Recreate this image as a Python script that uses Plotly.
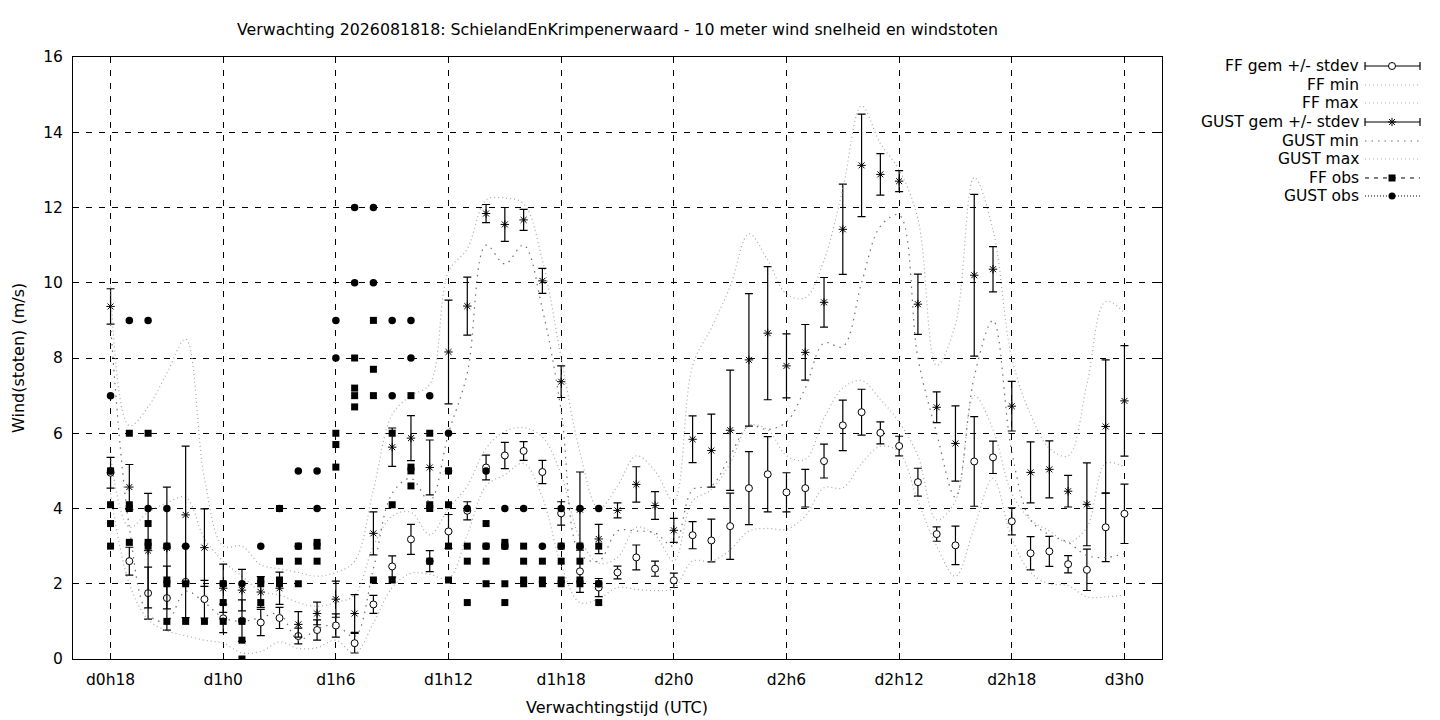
import plotly.graph_objects as go

# uren sinds d0h0 (verwachting per uur)
uur = [18, 19, 20, 21, 22, 23, 24, 25, 26, 27, 28, 29, 30, 31, 32, 33, 34, 35, 36,
       37, 38, 39, 40, 41, 42, 43, 44, 45, 46, 47, 48, 49, 50, 51, 52, 53, 54, 55,
       56, 57, 58, 59, 60, 61, 62, 63, 64, 65, 66, 67, 68, 69, 70, 71, 72]

ff_gem = [4.95, 2.60, 1.75, 1.62, 2.05, 1.59, 1.08, 1.02, 0.97, 1.09, 0.61, 0.77, 0.89,
          0.42, 1.45, 2.46, 3.18, 2.60, 3.39, 3.94, 5.09, 5.41, 5.53, 4.97, 3.87, 2.33,
          1.90, 2.30, 2.70, 2.40, 2.09, 3.29, 3.15, 3.53, 4.54, 4.91, 4.43, 4.54, 5.26,
          6.21, 6.56, 6.01, 5.66, 4.70, 3.32, 3.02, 5.25, 5.36, 3.66, 2.81, 2.86, 2.52,
          2.37, 3.50, 3.86]
ff_sd = [0.41, 0.37, 0.69, 0.85, 0.95, 0.50, 0.38, 0.55, 0.35, 0.28, 0.21, 0.27, 0.31,
         0.26, 0.24, 0.28, 0.40, 0.28, 0.45, 0.24, 0.33, 0.35, 0.25, 0.31, 0.31, 0.56,
         0.24, 0.17, 0.33, 0.20, 0.19, 0.36, 0.57, 0.88, 0.97, 1.00, 0.52, 0.50, 0.45,
         0.67, 0.61, 0.29, 0.26, 0.37, 0.19, 0.51, 1.19, 0.43, 0.36, 0.44, 0.40, 0.23,
         0.55, 0.91, 0.79]
ff_min = [4.40, 2.00, 1.05, 0.75, 0.62, 0.50, 0.42, 0.16, 0.20, 0.45, 0.28, 0.30, 0.50,
          0.15, 0.95, 1.90, 2.28, 2.25, 2.14, 3.30, 4.60, 4.90, 5.20, 4.30, 2.50, 1.50,
          1.60, 1.90, 1.85, 1.82, 1.88, 2.60, 2.60, 2.90, 3.40, 3.47, 3.45, 3.80, 4.55,
          4.55, 5.20, 5.65, 5.50, 4.20, 3.00, 2.20, 3.50, 4.80, 3.20, 2.30, 2.00, 1.95,
          1.65, 1.65, 1.70]
ff_max = [5.40, 3.50, 3.90, 4.15, 4.30, 3.20, 2.60, 2.20, 1.80, 1.70, 1.50, 1.40, 1.50,
          1.70, 3.00, 3.80, 3.90, 3.30, 4.00, 4.60, 5.60, 6.05, 6.15, 5.90, 4.90, 3.20,
          2.55, 2.70, 3.50, 3.30, 2.60, 4.20, 4.50, 5.20, 6.20, 6.10, 5.40, 5.30, 6.40,
          7.20, 7.40, 6.90, 6.30, 5.40, 3.70, 4.20, 7.00, 6.10, 4.40, 3.70, 3.40, 3.10,
          3.50, 5.20, 5.10]

gust_gem = [9.37, 4.57, 2.88, 2.95, 3.83, 2.96, 1.88, 1.83, 1.78, 1.88, 0.92, 1.21, 1.59,
            1.21, 3.34, 5.63, 5.87, 5.09, 8.16, 9.38, 11.84, 11.55, 11.67, 10.05, 7.37,
            3.97, 3.19, 3.95, 4.64, 4.08, 3.42, 5.84, 5.54, 6.08, 7.95, 8.66, 7.79, 8.15,
            9.48, 11.42, 13.12, 12.88, 12.70, 9.43, 6.69, 5.73, 10.20, 10.36, 6.72, 4.96,
            5.04, 4.46, 4.11, 6.18, 6.86]
gust_sd = [0.47, 0.60, 1.52, 1.62, 1.83, 1.03, 0.64, 0.55, 0.41, 0.43, 0.34, 0.30, 0.48,
           0.50, 0.57, 0.51, 0.60, 0.73, 1.38, 0.77, 0.24, 0.45, 0.28, 0.33, 0.42, 1.00,
           0.39, 0.20, 0.47, 0.37, 0.32, 0.62, 0.97, 1.60, 1.76, 1.77, 0.85, 0.74, 0.66,
           1.20, 1.36, 0.55, 0.28, 0.80, 0.41, 1.00, 2.15, 0.60, 0.66, 0.81, 0.76, 0.42,
           1.10, 1.77, 1.47]
gust_min = [8.90, 3.50, 1.20, 1.00, 1.80, 1.50, 1.10, 1.00, 1.10, 1.20, 0.50, 0.80, 0.90,
            0.60, 2.40, 4.40, 4.80, 4.20, 6.00, 7.60, 11.00, 10.50, 11.00, 9.30, 6.60,
            2.80, 2.60, 3.40, 3.40, 3.35, 3.00, 4.50, 4.60, 5.40, 6.20, 6.10, 6.30, 7.20,
            8.40, 8.30, 10.00, 11.50, 11.80, 8.00, 6.00, 4.30, 7.50, 9.00, 5.50, 3.70,
            3.30, 3.10, 2.75, 2.70, 2.80]
gust_max = [9.90, 6.20, 6.70, 7.60, 8.50, 4.80, 3.00, 3.00, 2.50, 2.40, 2.30, 2.20, 2.30,
            2.60, 4.50, 6.50, 7.00, 7.30, 10.30, 10.90, 12.20, 12.25, 12.10, 10.60, 8.00,
            5.50, 4.00, 4.60, 5.40, 5.00, 4.20, 7.80, 8.80, 9.90, 11.30, 10.60, 9.70, 9.60,
            10.60, 12.50, 14.70, 13.70, 13.00, 11.70, 7.80, 8.90, 12.80, 11.40, 8.00, 6.50,
            5.60, 5.40, 7.30, 9.50, 9.20]

# waarnemingen per uur
obs_uur = [18, 19, 20, 21, 22, 23, 24, 25, 26, 27, 28, 29, 30, 31, 32, 33, 34, 35, 36,
           37, 38, 39, 40, 41, 42, 43, 44]
obs_ff = [[5.0, 4.1, 3.6, 3.0], [6.0, 4.1, 4.0, 3.1], [6.0, 3.6, 3.1, 3.0],
          [3.0, 2.1, 2.0, 1.0], [2.0, 1.0], [1.0], [2.0, 1.5, 1.0], [1.0, 0.5, 0.0],
          [2.1, 2.0, 1.5], [4.0, 2.6, 2.1, 2.0], [3.0, 2.6, 2.0], [3.1, 3.0, 2.6],
          [6.0, 5.7, 5.1], [8.0, 7.2, 7.0, 6.7], [9.0, 7.7, 7.0, 2.1], [6.0, 4.1, 2.1],
          [7.0, 5.1, 5.0, 4.6], [6.0, 4.1, 4.0, 2.6], [5.0, 4.1, 3.0, 2.1], [3.0, 2.6, 1.5],
          [3.6, 3.0, 2.6, 2.0], [3.1, 3.0, 2.0, 1.5], [3.0, 2.6, 2.1, 2.0], [2.6, 2.1, 2.0],
          [3.0, 2.6, 2.1, 2.0], [3.0, 2.6, 2.1, 2.0], [3.0, 2.0, 1.5]]
obs_gust = [[7.0, 5.0], [9.0], [9.0, 4.0], [4.0, 3.0], [3.0], [], [2.0], [2.0], [3.0],
            [4.0], [5.0, 3.0], [5.0, 4.0], [9.0, 8.0], [12.0, 10.0], [12.0, 10.0],
            [9.0, 7.0], [9.0, 8.0], [7.0], [6.0, 5.0], [4.0], [5.0, 3.0], [4.0, 3.0],
            [4.0], [3.0], [4.0, 3.0], [4.0, 3.0], [4.0, 2.0]]

tick_uur = [18, 24, 30, 36, 42, 48, 54, 60, 66, 72]
tick_tekst = ['d0h18', 'd1h0', 'd1h6', 'd1h12', 'd1h18', 'd2h0', 'd2h6', 'd2h12',
              'd2h18', 'd3h0']

legend_namen = ['FF gem +/- stdev', 'FF min', 'FF max', 'GUST gem +/- stdev',
                'GUST min', 'GUST max', 'FF obs', 'GUST obs']

FONT = 'DejaVu Sans'
LICHT = '#a8a8a8'
DONKER = '#707070'
DOT_LICHT = '1px,3px'
DOT_DONKER = '1.5px,5px'

ff_obs_x, ff_obs_y = [], []
for u, waarden in zip(obs_uur, obs_ff):
    for w in waarden:
        ff_obs_x.append(u)
        ff_obs_y.append(w)
gust_obs_x, gust_obs_y = [], []
for u, waarden in zip(obs_uur, obs_gust):
    for w in waarden:
        gust_obs_x.append(u)
        gust_obs_y.append(w)

fig = go.Figure()


def gem_trace(y, sd, symbol, fill):
    return go.Scatter(
        x=uur, y=y, mode='markers',
        marker=dict(symbol=symbol, size=7, color=fill,
                    line=dict(color='black', width=1)),
        error_y=dict(type='data', array=sd, visible=True, color='black',
                     thickness=1.2, width=4),
        hoverinfo='x+y', showlegend=False)


def lijn_trace(y, color, dash):
    return go.Scatter(
        x=uur, y=y, mode='lines',
        line=dict(color=color, width=1.2, dash=dash, shape='spline', smoothing=1),
        hoverinfo='x+y', showlegend=False)


fig.add_trace(gem_trace(ff_gem, ff_sd, 'circle', 'white'))
fig.add_trace(lijn_trace(ff_min, LICHT, DOT_LICHT))
fig.add_trace(lijn_trace(ff_max, LICHT, DOT_LICHT))
fig.add_trace(gem_trace(gust_gem, gust_sd, 'asterisk-open', 'black'))
fig.add_trace(lijn_trace(gust_min, DONKER, DOT_DONKER))
fig.add_trace(lijn_trace(gust_max, LICHT, DOT_LICHT))
fig.add_trace(go.Scatter(x=ff_obs_x, y=ff_obs_y, mode='markers',
                         marker=dict(symbol='square', size=7, color='black'),
                         showlegend=False))
fig.add_trace(go.Scatter(x=gust_obs_x, y=gust_obs_y, mode='markers',
                         marker=dict(symbol='circle', size=7.5, color='black'),
                         showlegend=False))

# de pagina heeft 8px marge: alle maten hieronder zijn daarvoor gecorrigeerd
# legenda in gnuplot-stijl: tekst rechts uitgelijnd, voorbeeld rechts ervan
rij_y = [66, 85, 103, 122, 141, 159, 178, 196]
x0, x1, xm = 1365, 1420, 1392
stijlen = [
    ('bar', 'circle', 'white'),
    ('lijn', LICHT, DOT_LICHT),
    ('lijn', LICHT, DOT_LICHT),
    ('bar', 'asterisk-open', 'black'),
    ('lijn', DONKER, DOT_DONKER),
    ('lijn', LICHT, DOT_LICHT),
    ('obs', 'square', '4px,5px'),
    ('obs', 'circle', '1px,2px'),
]
for naam, yy, (soort, a, b) in zip(legend_namen, rij_y, stijlen):
    fig.add_annotation(x=1361, y=yy, xref='x2', yref='y2', text=naam,
                       showarrow=False, xanchor='right', yanchor='middle',
                       font=dict(family=FONT, size=15.5, color='black'))
    if soort == 'bar':
        fig.add_trace(go.Scatter(
            x=[x0, x1, None, x0, x0, None, x1, x1],
            y=[yy, yy, None, yy - 4, yy + 4, None, yy - 4, yy + 4],
            xaxis='x2', yaxis='y2', mode='lines',
            line=dict(color='black', width=1.2), hoverinfo='skip', showlegend=False))
        fig.add_trace(go.Scatter(
            x=[xm], y=[yy], xaxis='x2', yaxis='y2', mode='markers',
            marker=dict(symbol=a, size=7, color=b, line=dict(color='black', width=1)),
            hoverinfo='skip', showlegend=False))
    elif soort == 'lijn':
        fig.add_trace(go.Scatter(
            x=[x0, x1], y=[yy, yy], xaxis='x2', yaxis='y2', mode='lines',
            line=dict(color=a, width=1.2, dash=b), hoverinfo='skip', showlegend=False))
    else:
        fig.add_trace(go.Scatter(
            x=[x0, x1], y=[yy, yy], xaxis='x2', yaxis='y2', mode='lines',
            line=dict(color='black', width=1, dash=b), hoverinfo='skip',
            showlegend=False))
        fig.add_trace(go.Scatter(
            x=[xm], y=[yy], xaxis='x2', yaxis='y2', mode='markers',
            marker=dict(symbol=a, size=7, color='black'),
            hoverinfo='skip', showlegend=False))

fig.add_annotation(text='Verwachtingstijd (UTC)', x=0.40125, y=(659 - 707) / 602,
                   xref='paper', yref='paper', showarrow=False, yanchor='middle',
                   font=dict(family=FONT, size=16, color='black'))
fig.add_annotation(text='Wind(stoten) (m/s)', x=(18 - 73) / 1357, y=0.5,
                   xref='paper', yref='paper', showarrow=False, textangle=-90,
                   xanchor='center', yanchor='middle',
                   font=dict(family=FONT, size=16, color='black'))

as_stijl = dict(
    showgrid=True, gridcolor='black', gridwidth=1, griddash='6px,7px',
    showline=True, linecolor='black', linewidth=1, mirror='allticks',
    ticks='inside', ticklen=6, tickcolor='black', zeroline=False,
    tickfont=dict(family=FONT, size=15.5, color='black'), ticklabelstandoff=6,
)

fig.update_layout(
    width=1432, height=712,
    margin=dict(l=65, r=10, t=49, b=61),
    plot_bgcolor='white', paper_bgcolor='white',
    font=dict(family=FONT, size=15, color='black'),
    showlegend=False,
    title=dict(text='Verwachting 2026081818: SchielandEnKrimpenerwaard - 10 meter wind '
                    'snelheid en windstoten',
               x=0.40125, xanchor='center', xref='paper',
               y=1 - 21 / 712, yanchor='middle', yref='container',
               font=dict(family=FONT, size=15.8, color='black')),
    xaxis=dict(domain=[0, 0.8025], range=[16, 74], tickmode='array',
               tickvals=tick_uur, ticktext=tick_tekst, **as_stijl),
    yaxis=dict(domain=[0, 1], range=[0, 16], tick0=0, dtick=2, **as_stijl),
    xaxis2=dict(domain=[0.8158, 1], range=[1180, 1430], visible=False,
                anchor='y2', fixedrange=True),
    yaxis2=dict(domain=[0.7542, 1], range=[205, 57], visible=False,
                anchor='x2', fixedrange=True),
)

fig.write_html('out.html')
